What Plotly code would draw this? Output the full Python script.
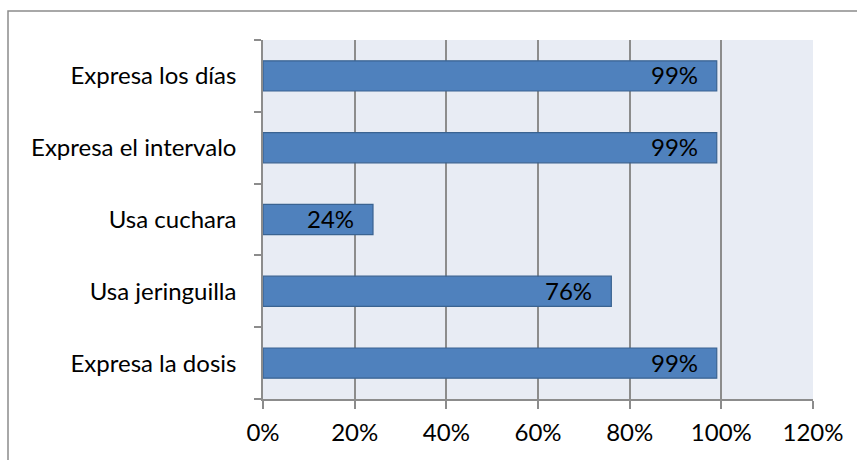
import plotly.graph_objects as go

# Categories listed bottom-to-top as they appear on the vertical axis
categories = ["Expresa la dosis", "Usa jeringuilla", "Usa cuchara",
              "Expresa el intervalo", "Expresa los días"]
shares = [0.99, 0.76, 0.24, 0.99, 0.99]
x_ticks = [0, 0.2, 0.4, 0.6, 0.8, 1.0, 1.2]
x_tick_labels = ["0%", "20%", "40%", "60%", "80%", "100%", "120%"]

FONT = "Lato, Calibri, Arial, sans-serif"
FS = 24
W, H = 857, 460

fig = go.Figure()
fig.add_trace(go.Bar(
    y=categories,
    x=shares,
    orientation="h",
    width=0.42,
    marker=dict(color="#4F81BD", line=dict(color="#3A6391", width=1.2)),
    hoverinfo="skip",
))

# Value labels placed just inside the end of each bar
for cat, v in zip(categories, shares):
    fig.add_annotation(
        x=v, y=cat, text=f"{round(v * 100)}%",
        xanchor="right", yanchor="middle", xshift=-17, yshift=1,
        showarrow=False, font=dict(family=FONT, size=FS, color="#000000"),
    )

fig.update_xaxes(
    range=[0, 1.2], tickvals=x_ticks, ticktext=x_tick_labels,
    showgrid=True, gridcolor="#8C8C8C", gridwidth=1.5,
    showline=True, linecolor="#8C8C8C", linewidth=1.5,
    ticks="outside", ticklen=8, tickcolor="#8C8C8C", tickwidth=1.5,
    ticklabelstandoff=3,
    tickfont=dict(family=FONT, size=FS, color="#000000"),
    zeroline=False, fixedrange=True,
)
fig.update_yaxes(
    categoryorder="array", categoryarray=categories,
    showgrid=False, showline=True, linecolor="#8C8C8C", linewidth=1.5,
    ticks="outside", tickson="boundaries", ticklen=7,
    tickcolor="#8C8C8C", tickwidth=1.5,
    ticklabelstandoff=20,
    tickfont=dict(family=FONT, size=FS, color="#000000"),
    fixedrange=True,
)

# Outer chart frame
fig.add_shape(
    type="rect", xref="paper", yref="paper",
    x0=(8 - 263) / (813 - 263), x1=(W + 10 - 263) / (813 - 263),
    y0=-(H + 10 - 399) / (399 - 40), y1=1 + (40 - 11) / (399 - 40),
    line=dict(color="#8C8C8C", width=1.5), fillcolor="rgba(0,0,0,0)",
    layer="below",
)

fig.update_layout(
    width=W, height=H,
    margin=dict(l=263, r=W - 813, t=40, b=H - 399, pad=0),
    plot_bgcolor="#E8ECF4", paper_bgcolor="#FFFFFF",
    showlegend=False, bargap=0.58,
    font=dict(family=FONT, size=FS, color="#000000"),
)

fig.write_html("out.html", config={"displayModeBar": False})
